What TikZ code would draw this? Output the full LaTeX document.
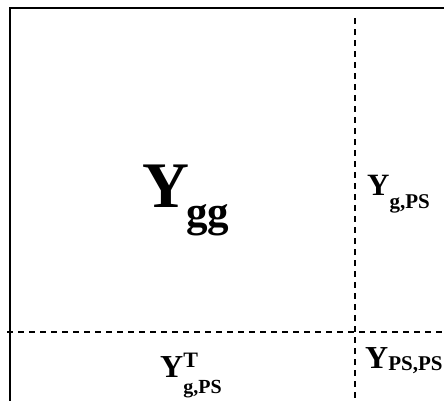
\documentclass[tikz,border=0pt]{standalone}
\usepackage{fontspec}
\setmainfont{Liberation Serif}
\begin{document}
\begin{tikzpicture}[x=1pt,y=-1pt,
  lbl/.style={anchor=base west,inner sep=0pt,font=\bfseries},
  sep/.style={line width=1.5pt,dash pattern=on 6pt off 5pt}]
\useasboundingbox (0,0) rectangle (444,400);
\clip (0,0) rectangle (444,400);
\fill[white] (0,0) rectangle (444,400);
\draw[line width=2pt] (10,8) rectangle (460,420);
\coordinate (vt) at (355,18);
\coordinate (vb) at (355,402);
\coordinate (hl) at (7,332);
\coordinate (hr) at (446,332);
\draw[sep] (vt) -- (vb);
\draw[sep] (hl) -- (hr);
\node[lbl] (ygg) at (142,207) {\fontsize{65}{65}\selectfont Y\kern-3pt\raisebox{-19pt}{\fontsize{43}{43}\selectfont gg}};
\node[lbl] (ygps) at (367,195) {\fontsize{31}{31}\selectfont Y\raisebox{-13pt}{\fontsize{21}{21}\selectfont g,PS}};
\node[lbl] (ypsps) at (365,368) {\fontsize{32}{32}\selectfont Y\raisebox{-2pt}{\fontsize{21}{21}\selectfont PS,PS}};
\node[lbl] (ygpst) at (160,377) {\fontsize{32}{32}\selectfont Y\rlap{\raisebox{10pt}{\fontsize{22}{22}\selectfont T}}\raisebox{-16pt}{\fontsize{20}{20}\selectfont g,PS}};
\end{tikzpicture}
\end{document}
